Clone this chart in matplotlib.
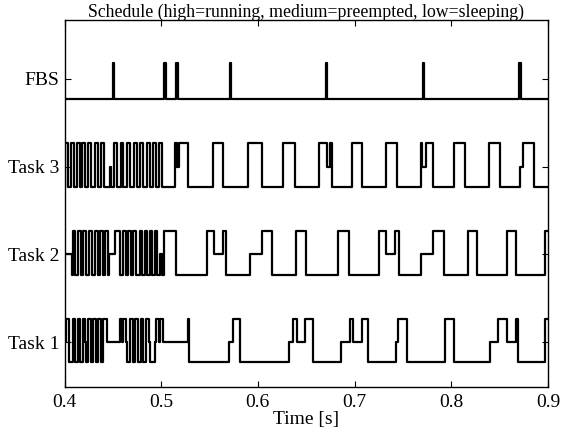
import matplotlib

matplotlib.use("Agg")
import matplotlib.pyplot as plt

# states: 0 = sleeping, 1 = preempted, 2 = running
T_END = 0.9

fbs_t = [0.400, 0.4500, 0.4515, 0.5030, 0.5045, 0.5158, 0.5173, 0.5710, 0.5725,
         0.6703, 0.6718, 0.7705, 0.7720, 0.8703, 0.8718]
fbs_s = [0, 2, 0, 2, 0, 2, 0, 2, 0, 2, 0, 2, 0, 2, 0]

task3_t = [0.400, 0.4010, 0.4040, 0.4068, 0.4098, 0.4126, 0.4156, 0.4185, 0.4215,
           0.4244, 0.4274, 0.4312, 0.4342, 0.4374, 0.4404, 0.4468, 0.4478,
           0.4515, 0.4545, 0.4580, 0.4610, 0.4648, 0.4678, 0.4716, 0.4746,
           0.4784, 0.4814, 0.4852, 0.4882, 0.4914, 0.4944, 0.4975, 0.5005,
           0.5144, 0.5161, 0.5185, 0.5280, 0.5540, 0.5644, 0.5900, 0.6040,
           0.6259, 0.6386, 0.6628, 0.6714, 0.6745, 0.6766, 0.6973, 0.7077,
           0.7328, 0.7439, 0.7687, 0.7702, 0.7740, 0.7811, 0.8025, 0.8146,
           0.8387, 0.8501, 0.8715, 0.8743, 0.8853]
task3_s = [0, 2, 0, 2, 0, 2, 0, 2, 0,
           2, 0, 2, 0, 2, 0, 1, 0,
           2, 0, 2, 0, 2, 0, 2, 0,
           2, 0, 2, 0, 2, 0, 2, 0,
           2, 1, 2, 0, 2, 0, 2, 0,
           2, 0, 2, 1, 2, 0, 2, 0,
           2, 0, 2, 1, 2, 0, 2, 0,
           2, 0, 1, 2, 0]

task2_t = [0.400, 0.4075, 0.4085, 0.4113, 0.4143, 0.4170, 0.4195, 0.4225, 0.4257,
           0.4285, 0.4316, 0.4343, 0.4368, 0.4398, 0.4420, 0.4445, 0.4455,
           0.4520, 0.4570, 0.4605, 0.4632, 0.4657, 0.4685, 0.4709, 0.4740,
           0.4778, 0.4805, 0.4830, 0.4858, 0.4881, 0.4910, 0.4933, 0.4960,
           0.4985, 0.5005, 0.5030, 0.5155, 0.5472, 0.5551, 0.5640, 0.5672,
           0.5920, 0.6040, 0.6145, 0.6397, 0.6497, 0.6824, 0.6938, 0.7249,
           0.7328, 0.7421, 0.7456, 0.7687, 0.7811, 0.7929, 0.8170, 0.8267,
           0.8578, 0.8674, 0.8975]
task2_s = [1, 0, 2, 0, 2, 0, 2, 0, 2,
           0, 2, 0, 2, 0, 2, 0, 1,
           2, 0, 2, 0, 2, 0, 2, 0,
           2, 0, 2, 0, 2, 0, 2, 0,
           1, 0, 2, 0, 2, 1, 2, 0,
           1, 2, 0, 2, 0, 2, 0, 2,
           1, 2, 0, 1, 2, 0, 2, 0,
           2, 0, 2]

task1_t = [0.400, 0.4018, 0.4050, 0.4085, 0.4112, 0.4140, 0.4165, 0.4190, 0.4215,
           0.4225, 0.4245, 0.4270, 0.4298, 0.4322, 0.4350, 0.4375, 0.4400,
           0.4437, 0.4575, 0.4590, 0.4600, 0.4640, 0.4650, 0.4680, 0.4705,
           0.4730, 0.4755, 0.4790, 0.4815, 0.4845, 0.4870, 0.4885, 0.4935,
           0.4950, 0.4975, 0.4985, 0.5023, 0.5280, 0.5290, 0.5706, 0.5741,
           0.5820, 0.6317, 0.6362, 0.6404, 0.6490, 0.6570, 0.6860, 0.6948,
           0.6983, 0.7077, 0.7135, 0.7432, 0.7449, 0.7542, 0.7939, 0.8032,
           0.8405, 0.8484, 0.8578, 0.8674, 0.8687, 0.8974]
task1_s = [1, 2, 0, 2, 0, 2, 0, 2, 1,
           0, 2, 0, 2, 0, 2, 0, 2,
           1, 2, 1, 2, 1, 0, 2, 0,
           2, 0, 2, 0, 2, 1, 0, 1,
           2, 1, 2, 1, 2, 0, 1, 2,
           0, 1, 2, 1, 2, 0, 1, 2,
           1, 2, 0, 1, 2, 0, 2, 0,
           1, 2, 1, 2, 0, 2]

row_labels = ["Task 1", "Task 2", "Task 3", "FBS"]
rows = [(task1_t, task1_s), (task2_t, task2_s), (task3_t, task3_s), (fbs_t, fbs_s)]

# vertical offset of each state around the row centre
state_y = {0: -0.23, 1: 0.0, 2: 0.27}
fbs_y = {0: -0.23, 1: 0.0, 2: 0.18}

plt.rcParams["font.family"] = ["Liberation Serif", "DejaVu Serif"]

fig = plt.figure(figsize=(5.66, 4.29), dpi=100)
ax = fig.add_axes([0.114, 0.098, 0.854, 0.855])

for i, (times, states) in enumerate(rows):
    row = i + 1
    lv = fbs_y if row == 4 else state_y
    x = list(times) + [T_END]
    y = [row + lv[s] for s in states] + [row + lv[states[-1]]]
    ax.step(x, y, where="post", color="black", lw=1.6)

ax.set_xlim(0.4, 0.9)
ax.set_ylim(0.49, 4.67)
ax.set_xticks([0.4, 0.5, 0.6, 0.7, 0.8, 0.9])
ax.set_xticklabels(["0.4", "0.5", "0.6", "0.7", "0.8", "0.9"])
ax.set_yticks([1, 2, 3, 4])
ax.set_yticklabels(row_labels)
ax.tick_params(direction="in", top=True, right=True, labelsize=14, length=4)
ax.tick_params(axis="x", pad=5)
for sp in ax.spines.values():
    sp.set_linewidth(1.0)

ax.set_xlabel("Time [s]", fontsize=14, labelpad=0)
ax.set_title("Schedule (high=running, medium=preempted, low=sleeping)", fontsize=12.8, pad=2)

fig.savefig("out.png", dpi=100)
